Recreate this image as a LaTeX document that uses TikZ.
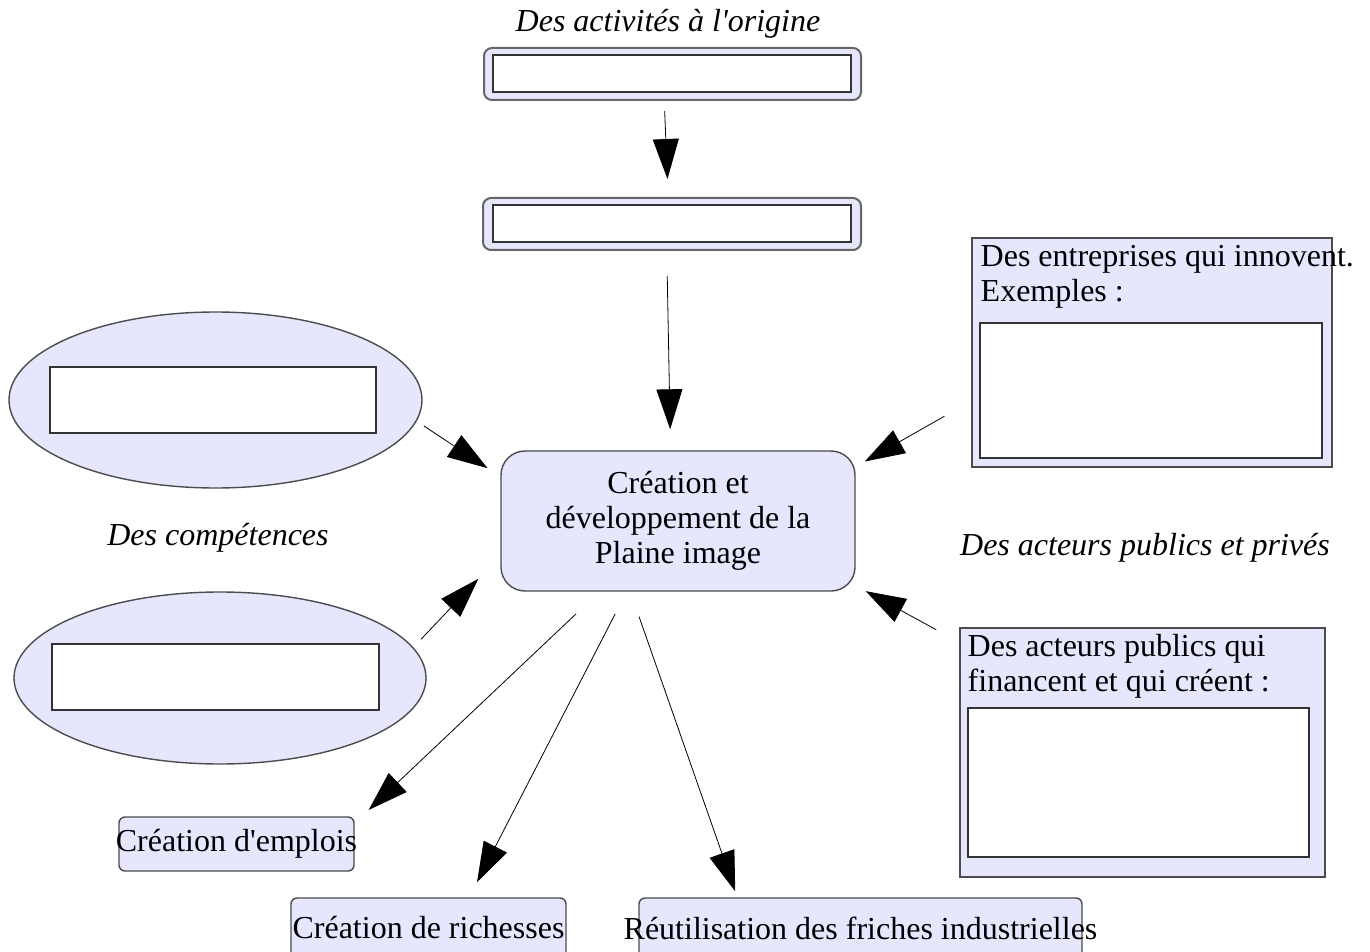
\documentclass[tikz,border=0pt]{standalone}
\usepackage{fontspec}
\setmainfont{Liberation Serif}
\usetikzlibrary{arrows.meta,shapes.geometric,positioning}
\definecolor{plainefill}{RGB}{230,230,255}

\begin{document}
\begin{tikzpicture}[x=0.5pt, y=-0.5pt,
  every node/.style={font=\fontsize{16}{17.5}\selectfont},
  lav/.style={fill=plainefill, draw=black!70, line width=0.7pt, inner sep=0pt},
  blank/.style={rectangle, fill=white, draw=black!80, line width=0.6pt, inner sep=0pt},
  arr/.style={-{Triangle[length=20pt, width=13pt]}, line width=0.4pt}]
\useasboundingbox (0,0) rectangle (1370,952);

\node (origine) at (668,24) {\itshape Des activités à l\textquotesingle origine};
\node[lav, rounded corners=4pt, line width=1pt, draw=black!60, minimum width=188.5pt, minimum height=26pt] (top_1) at (672.5,74) {};
\node[blank, minimum width=179pt, minimum height=18.5pt] (top_1_in) at (672,73.5) {};
\node[lav, rounded corners=4pt, line width=1pt, draw=black!60, minimum width=189pt, minimum height=26pt] (top_2) at (672,224) {};
\node[blank, minimum width=179pt, minimum height=18.5pt] (top_2_in) at (672,223.5) {};

\node[lav, rounded corners=12pt, minimum width=177pt, minimum height=70pt, align=center] (plaine) at (678,521)
  {Création et\\développement de la\\Plaine image};

\node[lav, ellipse, minimum width=206.5pt, minimum height=88pt] (comp_1) at (215.5,400) {};
\node[blank, minimum width=163pt, minimum height=33pt] (comp_1_in) at (213,400) {};
\node (competences) at (218,538) {\itshape Des compétences};
\node[lav, ellipse, minimum width=206pt, minimum height=86pt] (comp_2) at (220,678) {};
\node[blank, minimum width=163.5pt, minimum height=33pt] (comp_2_in) at (215.5,677) {};

\node[lav, rectangle, minimum width=180pt, minimum height=114.5pt] (entreprises) at (1152,352.5) {};
\node[anchor=north west, align=left, inner sep=0pt] (entreprises_txt) at ([xshift=4.5pt, yshift=-4pt]entreprises.north west)
  {Des entreprises qui innovent.\\Exemples :};
\node[blank, minimum width=171pt, minimum height=67.5pt] (entreprises_in) at (1151,390.5) {};
\node (acteurs) at (1145,548) {\itshape Des acteurs publics et privés};
\node[lav, rectangle, minimum width=182.5pt, minimum height=124.5pt] (publics) at (1142.5,752.5) {};
\node[anchor=north west, align=left, inner sep=0pt] (publics_txt) at ([xshift=4pt, yshift=-3.5pt]publics.north west)
  {Des acteurs publics qui\\financent et qui créent :};
\node[blank, minimum width=170.5pt, minimum height=74.5pt] (publics_in) at (1138.5,782.5) {};

\node[lav, rounded corners=3pt, minimum width=117.5pt, minimum height=27pt, label=center:{Création d\textquotesingle emplois}] (emplois) at (236.5,844) {};
\node[lav, rounded corners=3pt, minimum width=137.5pt, minimum height=30pt, label=center:{Création de richesses}] (richesses) at (428.5,928) {};
\node[lav, rounded corners=3pt, minimum width=221.5pt, minimum height=30pt, label=center:{Réutilisation des friches industrielles}] (friches) at (860.5,928) {};

\draw[arr, shorten <=5pt, shorten >=9pt] (top_1.253.9) -- (top_2.98.7);
\draw[arr, shorten <=12.5pt, shorten >=10.5pt] (top_2.259.1) -- (plaine.96.5);
\draw[arr, shorten <=4.3pt, shorten >=7.7pt] (comp_1.-6.7) -- (plaine.166.4);
\draw[arr, shorten <=5.6pt, shorten >=16pt] (comp_2.9.6) -- (plaine.191.6);
\draw[arr, shorten <=15.5pt, shorten >=5.2pt] (entreprises.195.1) -- (plaine.17.3);
\draw[arr, shorten <=13.2pt, shorten >=5.7pt] (publics.149.5) -- (plaine.-20.3);
\draw[arr, shorten <=16.1pt, shorten >=9.6pt] (plaine.222.1) -- (emplois.10.6);
\draw[arr, shorten <=12.5pt, shorten >=8.5pt] (plaine.234.8) -- (richesses.37.9);
\draw[arr, shorten <=13.2pt, shorten >=3.2pt] (plaine.236) -- (friches.166.8);
\end{tikzpicture}
\end{document}
